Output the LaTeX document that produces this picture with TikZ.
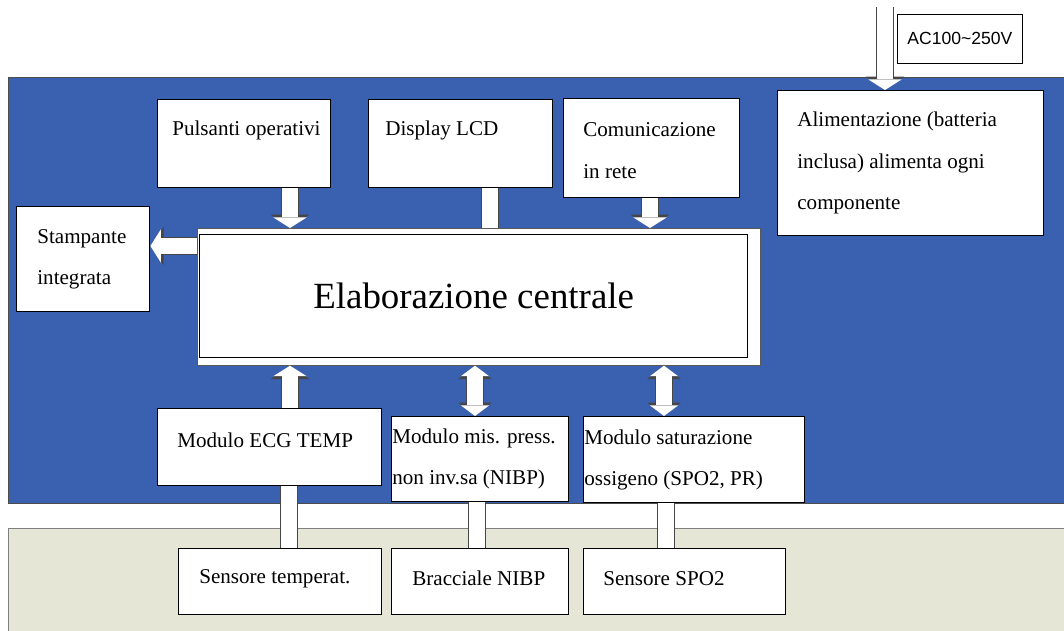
\documentclass[tikz,border=0pt]{standalone}
\usepackage{fontspec}
\setmainfont{Liberation Serif}
\newfontfamily\acfont{Liberation Sans}
\usetikzlibrary{arrows.meta}
\definecolor{panelblue}{RGB}{58,96,176}
\definecolor{panelbeige}{RGB}{230,230,214}
\definecolor{rim}{RGB}{70,70,70}
\tikzstyle{block}=[draw=black, thick, fill=white, anchor=north west, inner sep=0pt]
\tikzstyle{btext}=[anchor=west, align=left, inner sep=0pt, font=\fontsize{12}{23.6}\selectfont]
\tikzstyle{fatbar}=[line width=9pt, white, preaction={draw=rim, line width=10.6pt}]
\tikzstyle{fatarrow}=[line width=9pt, white, -{Triangle[length=6pt, width=19pt, line width=0pt 0 0]},
  preaction={draw=rim, line width=10.6pt, -{Triangle[length=7.6pt, width=22pt, line width=0pt 0 0]}}]
\tikzstyle{fatboth}=[line width=8.6pt, white,
  {Triangle[length=6pt, width=16pt, line width=0pt 0 0]}-{Triangle[length=6pt, width=16pt, line width=0pt 0 0]},
  preaction={draw=rim, line width=10.2pt,
  {Triangle[length=7.6pt, width=19pt, line width=0pt 0 0]}-{Triangle[length=7.6pt, width=19pt, line width=0pt 0 0]}}]

\begin{document}
\begin{tikzpicture}[x=0.02cm, y=-0.02cm]
\useasboundingbox (0,0) rectangle (1064,631);
% panels
\fill[panelbeige] (8,528) rectangle (1064,631);
\draw[gray] (8,631) -- (8,528) -- (1064,528);
\draw[gray!60!black, fill=panelblue] (8,77) rectangle (1064,503);

% upper row
\node[block, minimum width=3.46cm, minimum height=1.76cm,
  label={[btext, xshift=0.3cm, yshift=0.26cm]west:Pulsanti operativi}] (puls) at (157,99) {};
\node[block, minimum width=3.68cm, minimum height=1.76cm,
  label={[btext, xshift=0.34cm, yshift=0.26cm]west:Display LCD}] (disp) at (368,99) {};
\node[block, minimum width=3.52cm, minimum height=1.98cm,
  label={[btext, xshift=0.4cm, yshift=-0.05cm]west:Comunicazione\\in rete}] (comm) at (563,98) {};
\node[block, minimum width=5.32cm, minimum height=2.9cm,
  label={[btext, xshift=0.4cm]west:Alimentazione (batteria\\inclusa) alimenta ogni\\componente}] (alim) at (777,90) {};
\node[draw=black, fill=white, anchor=north west, minimum width=2.5cm, minimum height=0.98cm,
  inner sep=0pt, font=\acfont\fontsize{10}{12}\selectfont] (ac) at (897,14) {AC100\textasciitilde250V};
\coordinate (acin) at (885,7);

% central unit
\node[block, minimum width=2.66cm, minimum height=2.1cm,
  label={[btext, xshift=0.42cm]west:Stampante\\integrata}] (stamp) at (16,206) {};
\node[draw=gray!70!black, fill=white, anchor=north west, minimum width=11.26cm,
  minimum height=2.74cm, inner sep=0pt] (cpuframe) at (197,228) {};
\node[block, minimum width=10.96cm, minimum height=2.46cm,
  font=\fontsize{21}{25}\selectfont] (cpu) at (199,234) {Elaborazione centrale};

% modules
\node[block, minimum width=4.48cm, minimum height=1.54cm,
  label={[btext, xshift=0.4cm, yshift=0.13cm]west:Modulo ECG TEMP}] (ecg) at (157,408) {};
\node[block, minimum width=3.54cm, minimum height=1.7cm,
  label={[btext, xshift=0.02cm]west:Modulo mis. press.\\non inv.sa (NIBP)}] (nibp) at (391,416) {};
\node[block, minimum width=4.42cm, minimum height=1.72cm,
  label={[btext, xshift=0.02cm]west:Modulo saturazione\\ossigeno (SPO2, PR)}] (spo2) at (583,416) {};

% sensors
\node[block, minimum width=4.06cm, minimum height=1.32cm,
  label={[btext, xshift=0.42cm, yshift=0.06cm]west:Sensore temperat.}] (tsens) at (178,548) {};
\node[block, minimum width=3.54cm, minimum height=1.32cm,
  label={[btext, xshift=0.42cm, yshift=0.06cm]west:Bracciale NIBP}] (cuff) at (391,548) {};
\node[block, minimum width=4.04cm, minimum height=1.32cm,
  label={[btext, xshift=0.4cm, yshift=0.06cm]west:Sensore SPO2}] (ssens) at (583,548) {};

% connectors
\draw[fatarrow] (acin) -- (acin |- alim.north);
\draw[fatarrow] (290,0 |- puls.south) -- (290,0 |- cpuframe.north);
\draw[fatbar] (490,0 |- disp.south) -- (490,0 |- cpuframe.north);
\draw[fatarrow] (650,0 |- comm.south) -- (650,0 |- cpuframe.north);
\draw[fatarrow] (0,246 -| cpuframe.west) -- (0,246 -| stamp.east);
\draw[fatarrow] (290,0 |- ecg.north) -- (290,0 |- cpuframe.south);
\draw[fatboth] (475,0 |- cpuframe.south) -- (475,0 |- nibp.north);
\draw[fatboth] (664,0 |- cpuframe.south) -- (664,0 |- spo2.north);
\draw[fatbar] (289,0 |- ecg.south) -- (289,0 |- tsens.north);
\draw[fatbar] (477,0 |- nibp.south) -- (477,0 |- cuff.north);
\draw[fatbar] (666,0 |- spo2.south) -- (666,0 |- ssens.north);
\end{tikzpicture}
\end{document}
